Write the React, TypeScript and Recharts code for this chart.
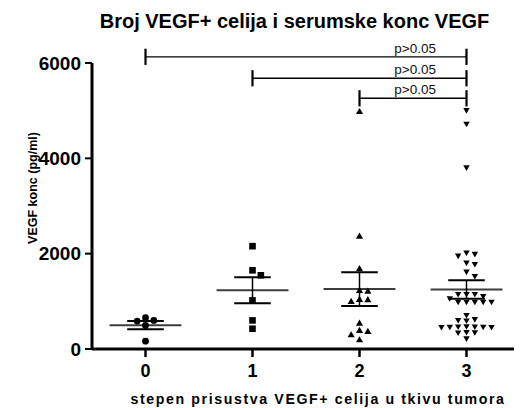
import { ScatterChart, Scatter, XAxis, YAxis, ReferenceLine, ReferenceDot } from 'recharts';

const FONT = '"Liberation Sans", Arial, sans-serif';

// x categories (stepen VEGF+ celija)
const categories = ['0', '1', '2', '3'];

// serum VEGF (pg/ml) per group
const group0 = [656, 585, 494, 600, 164];
const group1 = [2157, 1651, 1546, 1020, 600, 425];
const group2 = [4982, 2367, 1687, 1231, 1216, 1041, 999, 1035, 543, 368, 389, 299, 194];
const group3 = [
  5003, 4717, 3804, 1988, 1952, 2015, 1777, 1805, 1616, 1525,
  1147, 1147, 1147, 1105, 1056, 985, 985, 985, 985, 985,
  705, 620, 600, 590, 470, 465, 465, 460, 460, 455, 455,
  350, 345, 340, 215,
];

const yTicks = [0, 2000, 4000, 6000];

// significance brackets
const comparisons = [[0, 3], [1, 3], [2, 3]];
const bracketLevels = [6130, 5680, 5260];
const pLabels = ['p>0.05', 'p>0.05', 'p>0.05'];

const COL = 0.078; // column spacing of the swarm, x units
const MIN_GAP = 110; // marker height, y units
const MEAN_HALF = 0.336;
const CAP_HALF = 0.171;
const BRACKET_TICK = 170;
const P_LABEL_X = 2.52;

// simple column swarm like prism does
function swarm(values: number[], center: number) {
  const order = [0, 1, -1, 2, -2, 3, -3, 4, -4, 5, -5];
  const placed: { col: number; v: number }[] = [];
  return [...values]
    .sort((a, b) => b - a)
    .map((v) => {
      const col = order.find((c) => !placed.some((p) => p.col === c && Math.abs(p.v - v) < MIN_GAP)) ?? 0;
      placed.push({ col, v });
      return { x: center + col * COL, y: v };
    });
}

function stats(values: number[]) {
  const n = values.length;
  const mean = values.reduce((a, b) => a + b, 0) / n;
  const sd = Math.sqrt(values.reduce((a, v) => a + (v - mean) ** 2, 0) / (n - 1));
  return { mean, sem: sd / Math.sqrt(n) };
}

const Dot = ({ cx, cy }: any) => <circle cx={cx} cy={cy} r={3.4} fill="#000" />;
const Box = ({ cx, cy }: any) => <rect x={cx - 3.3} y={cy - 3.3} width={6.6} height={6.6} fill="#000" />;
const TriUp = ({ cx, cy }: any) => (
  <polygon points={`${cx},${cy - 3.6} ${cx + 3.6},${cy + 2.6} ${cx - 3.6},${cy + 2.6}`} fill="#000" />
);
const TriDown = ({ cx, cy }: any) => (
  <polygon points={`${cx - 3.2},${cy - 2.4} ${cx + 3.2},${cy - 2.4} ${cx},${cy + 3.2}`} fill="#000" />
);

const groups = [group0, group1, group2, group3];
const shapes = [Dot, Box, TriUp, TriDown];

export default function App() {
  return (
    <div style={{ position: 'relative', width: 514, height: 400 }}>
      <ScatterChart width={514} height={400} margin={{ top: 55, right: 2, bottom: 0, left: 0 }}>
        <XAxis
          dataKey="x"
          type="number"
          domain={[-0.5, 3.5]}
          ticks={[0, 1, 2, 3]}
          tickFormatter={(v) => categories[v]}
          height={59}
          tickSize={8}
          tickMargin={7}
          axisLine={{ stroke: '#000', strokeWidth: 3 }}
          tickLine={{ stroke: '#000', strokeWidth: 2.5 }}
          tick={{ fill: '#000', fontSize: 18, fontWeight: 'bold', fontFamily: FONT }}
        />
        <YAxis
          dataKey="y"
          type="number"
          domain={[0, 6000]}
          ticks={yTicks}
          width={84}
          tickSize={7}
          tickMargin={4}
          axisLine={{ stroke: '#000', strokeWidth: 3 }}
          tickLine={{ stroke: '#000', strokeWidth: 2 }}
          tick={{ fill: '#000', fontSize: 19, fontWeight: 'bold', fontFamily: FONT }}
        />

        {groups.map((g, i) => {
          const { mean, sem } = stats(g);
          return [
            <ReferenceLine key={`m${i}`} ifOverflow="visible" stroke="#3c3c3c" strokeWidth={2}
              segment={[{ x: i - MEAN_HALF, y: mean }, { x: i + MEAN_HALF, y: mean }]} />,
            <ReferenceLine key={`v${i}`} ifOverflow="visible" stroke="#000" strokeWidth={1.5}
              segment={[{ x: i, y: mean - sem }, { x: i, y: mean + sem }]} />,
            <ReferenceLine key={`t${i}`} ifOverflow="visible" stroke="#000" strokeWidth={2}
              segment={[{ x: i - CAP_HALF, y: mean + sem }, { x: i + CAP_HALF, y: mean + sem }]} />,
            <ReferenceLine key={`b${i}`} ifOverflow="visible" stroke="#000" strokeWidth={2}
              segment={[{ x: i - CAP_HALF, y: mean - sem }, { x: i + CAP_HALF, y: mean - sem }]} />,
          ];
        })}

        {groups.map((g, i) => (
          <Scatter key={`s${i}`} data={swarm(g, i)} shape={shapes[i]} isAnimationActive={false} />
        ))}

        {comparisons.map(([a, b], i) => {
          const lvl = bracketLevels[i];
          return [
            <ReferenceLine key={`h${i}`} ifOverflow="visible" stroke="#000" strokeWidth={1.3}
              segment={[{ x: a, y: lvl }, { x: b, y: lvl }]} />,
            <ReferenceLine key={`l${i}`} ifOverflow="visible" stroke="#000" strokeWidth={2.2}
              segment={[{ x: a, y: lvl - BRACKET_TICK }, { x: a, y: lvl + BRACKET_TICK }]} />,
            <ReferenceLine key={`r${i}`} ifOverflow="visible" stroke="#000" strokeWidth={2.2}
              segment={[{ x: b, y: lvl - BRACKET_TICK }, { x: b, y: lvl + BRACKET_TICK }]} />,
            <ReferenceDot key={`p${i}`} x={P_LABEL_X} y={lvl} r={0} ifOverflow="visible"
              fill="none" stroke="none"
              label={{ value: pLabels[i], position: 'top', offset: 4, fill: '#111', fontSize: 13.5, fontFamily: FONT }} />,
          ];
        })}
      </ScatterChart>

      {/* titles */}
      <svg width={514} height={400} style={{ position: 'absolute', left: 0, top: 0, pointerEvents: 'none' }}>
        <text x={286.5} y={20.3} textAnchor="middle" fontSize={20} fontWeight="bold" fontFamily={FONT} fill="#000">
          Broj VEGF+ celija i serumske konc VEGF
        </text>
        <text x={310} y={396} textAnchor="middle" fontSize={14.2} fontWeight="bold" letterSpacing={1.6} fontFamily={FONT} fill="#000">
          stepen prisustva VEGF+ celija u tkivu tumora
        </text>
        <text x={25} y={180} transform="rotate(-90 25 180)" textAnchor="middle" dominantBaseline="central"
          fontSize={12.5} fontWeight="bold" fontFamily={FONT} fill="#000">
          VEGF konc (pg/ml)
        </text>
      </svg>
    </div>
  );
}
